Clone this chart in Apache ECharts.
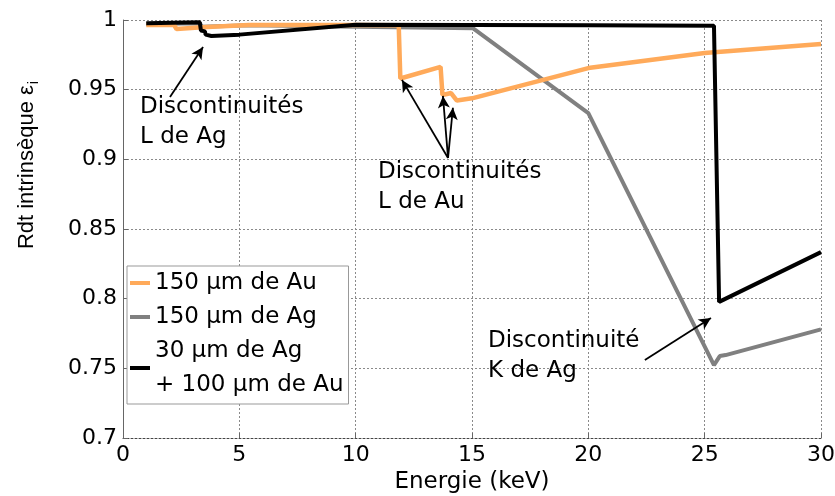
<!DOCTYPE html>
<html>
<head>
<meta charset="utf-8">
<script src="https://cdn.jsdelivr.net/npm/echarts@6/dist/echarts.min.js"></script>
<style>
html,body{margin:0;padding:0;background:#fff;}
#chart{width:835px;height:496px;}
</style>
</head>
<body>
<div id="chart"></div>
<script>
// ---- data ----
var energyAu = [1, 2.2, 2.3, 2.36, 3.4, 5.4, 10, 11.85, 11.92, 13.65, 13.73, 14.1, 14.35, 15, 20, 25, 30];
var effAu    = [0.9964, 0.9964, 0.9935, 0.993, 0.9948, 0.9964, 0.9965, 0.9962, 0.958, 0.9663, 0.9462, 0.9476, 0.9422, 0.9438, 0.9655, 0.9763, 0.9828];

var energyAg = [1, 3.3, 3.4, 5.4, 10, 15.05, 20, 25.4, 25.65, 25.9, 30];
var effAg    = [0.9972, 0.9976, 0.9952, 0.9962, 0.9952, 0.994, 0.9332, 0.7523, 0.7588, 0.7595, 0.778];

var energyMix = [1, 3.3, 3.35, 3.52, 3.55, 3.8, 3.82, 5, 10, 15, 20, 25.4, 25.62, 30];
var effMix    = [0.9977, 0.9983, 0.9925, 0.9918, 0.9895, 0.9885, 0.9873, 0.9895, 0.9966, 0.9965, 0.9963, 0.9958, 0.7977, 0.8334];

var seriesNames = ['150 \u03bcm de Au', '150 \u03bcm de Ag', '30 \u03bcm de Ag\n+ 100 \u03bcm de Au'];
var xTicks = [0, 5, 10, 15, 20, 25, 30];
var yTickLabels = ['0.7', '0.75', '0.8', '0.85', '0.9', '0.95', '1'];

// annotation arrows in data coordinates: [tailE, tailEff, headE, headEff]
var arrowsAg = [[2.02, 0.9447, 3.44, 0.9806]];
var arrowsAu = [[13.97, 0.901, 11.99, 0.957], [13.97, 0.901, 13.75, 0.9455], [13.97, 0.901, 14.18, 0.937]];
var arrowsK  = [[22.43, 0.756, 25.27, 0.7861]];
var annotTexts = ['Discontinuit\u00e9s\nL de Ag', 'Discontinuit\u00e9s\nL de Au', 'Discontinuit\u00e9\nK de Ag'];

function zip(xs, ys){ return xs.map(function(x,i){ return [x, ys[i]]; }); }
function arrowData(list){
  return list.map(function(a){ return [{coord:[a[0],a[1]]},{coord:[a[2],a[3]]}]; });
}

var FONT = 'DejaVu Sans';
var chart = echarts.init(document.getElementById('chart'), null, {renderer:'canvas'});

var option = {
  animation: false,
  backgroundColor: '#fff',
  grid: {left:123, right:14, top:20, bottom:58, containLabel:false, outerBoundsMode:'none'},
  legend: {
    orient: 'vertical',
    left: 127, top: 266,
    data: seriesNames,
    icon: 'rect',
    itemWidth: 20, itemHeight: 4,
    itemGap: 0,
    padding: [0, 5, 2, 3],
    backgroundColor: '#fff',
    borderColor: '#999', borderWidth: 1,
    textStyle: {fontFamily: FONT, fontSize: 23, color:'#000', lineHeight: 34},
    selectedMode: false
  },
  xAxis: {
    type: 'value', min: 0, max: 30, interval: 5,
    name: 'Energie (keV)', nameLocation: 'middle', nameGap: 28,
    nameTextStyle: {fontFamily: FONT, fontSize: 23, color:'#000'},
    axisLine: {show: true, onZero:false, lineStyle: {color:'#444', type:[2,2], width:1}},
    axisTick: {show: true, inside: true, length: 5, lineStyle:{color:'#666'}},
    axisLabel: {fontFamily: FONT, fontSize: 22, color:'#000', margin: 6},
    splitLine: {show: true, lineStyle: {color:'#8a8a8a', type:[2,2], width:1}}
  },
  yAxis: {
    type: 'value', min: 0.7, max: 1, interval: 0.05,
    name: '{a|Rdt intrins\u00e8que \u03b5}{b|i}', nameLocation: 'middle', nameGap: 82, nameRotate: 90,
    nameTextStyle: {
      fontFamily: 'Liberation Sans', fontSize: 22, color:'#000',
      padding: [0, 0, 0, 128],
      rich: {
        a: {fontFamily: 'Liberation Sans', fontSize: 22, color:'#000'},
        b: {fontFamily: 'Liberation Sans', fontSize: 15, color:'#000', padding:[14,0,0,1]}
      }
    },
    axisLine: {show: true, lineStyle: {color:'#666', width:1}},
    axisTick: {show: true, inside: true, length: 5, lineStyle:{color:'#666'}},
    axisLabel: {fontFamily: FONT, fontSize: 22, color:'#000', margin: 6,
      formatter: function(v){ var i = Math.round((v - 0.7) / 0.05); return yTickLabels[i]; }},
    splitLine: {show: true, lineStyle: {color:'#8a8a8a', type:[2,2], width:1}}
  },
  series: [
    {
      name: seriesNames[1], type: 'line', data: zip(energyAg, effAg),
      showSymbol: false, symbol: 'none', color: '#808080',
      lineStyle: {color:'#808080', width: 4}, z: 2
    },
    {
      name: seriesNames[0], type: 'line', data: zip(energyAu, effAu),
      showSymbol: false, symbol: 'none', color: '#FFAA5A',
      lineStyle: {color:'#FFAA5A', width: 4.5}, z: 3
    },
    {
      name: seriesNames[2], type: 'line', data: zip(energyMix, effMix),
      showSymbol: false, symbol: 'none', color: '#000',
      lineStyle: {color:'#000', width: 4}, z: 4,
      markLine: {
        silent: true, animation: false,
        symbol: ['none', 'arrow'], symbolSize: [9, 12],
        label: {show: false},
        lineStyle: {color:'#000', width: 1.8, type: 'solid'},
        emphasis: {disabled: true},
        data: arrowData(arrowsAg).concat(arrowData(arrowsAu)).concat(arrowData(arrowsK))
      }
    }
  ],
  graphic: [
    {type:'text', left: 140, top: 92, z: 10, style:{text: annotTexts[0], fontFamily: FONT, fontSize: 23, lineHeight: 30, fill:'#000'}},
    {type:'text', left: 378, top: 157, z: 10, style:{text: annotTexts[1], fontFamily: FONT, fontSize: 23, lineHeight: 30, fill:'#000'}},
    {type:'text', left: 488, top: 326, z: 10, style:{text: annotTexts[2], fontFamily: FONT, fontSize: 23, lineHeight: 30, fill:'#000'}}
  ]
};
chart.setOption(option);
</script>
</body>
</html>
